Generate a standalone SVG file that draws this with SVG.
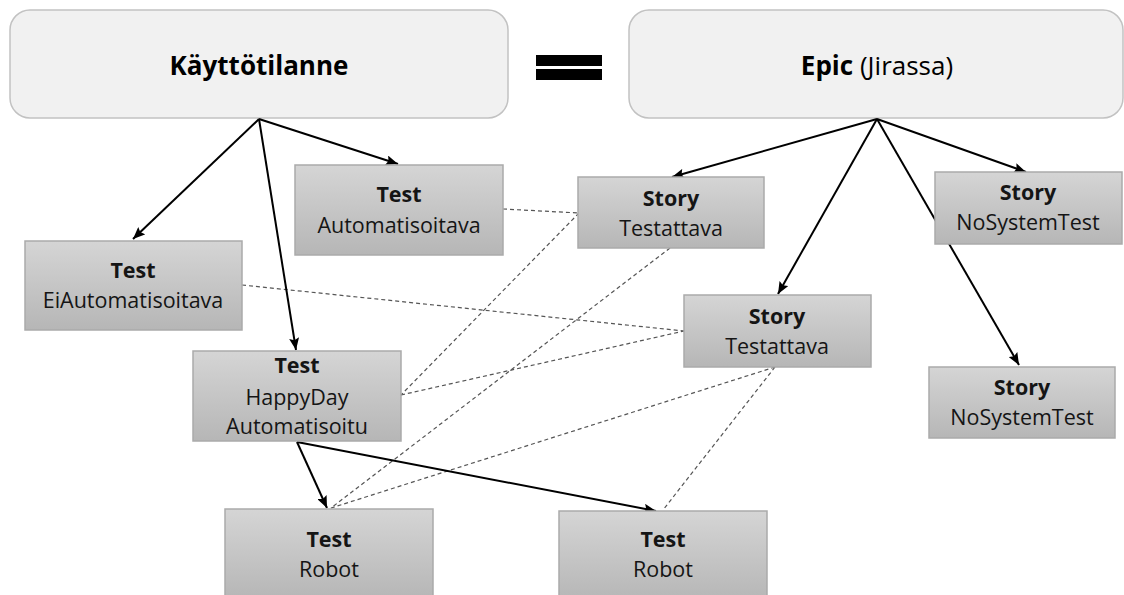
<svg xmlns="http://www.w3.org/2000/svg" width="1124" height="595" viewBox="0 0 1124 595">
<defs>
<linearGradient id="g" x1="0" y1="0" x2="0" y2="1">
<stop offset="0" stop-color="#d5d5d5"/>
<stop offset="1" stop-color="#b6b6b6"/>
</linearGradient>
<marker id="ah" viewBox="0 0 12 10" refX="12" refY="5" markerWidth="13" markerHeight="10" orient="auto" markerUnits="userSpaceOnUse">
<path d="M0,0 L12,5 L0,10 L2,5 z" fill="#000"/>
</marker>
<style>
.top{fill:#f1f1f1;stroke:#c2c2c2;stroke-width:1.5}
.box{fill:url(#g);stroke:#aaaaaa;stroke-width:1.5}
text{font-family:"Open Sans","Noto Sans","Liberation Sans",sans-serif;fill:#151515;text-anchor:middle}
.t{font-size:21.5px}
.b{font-weight:bold}
.h{font-size:26px;fill:#000}
.arr{stroke:#000;stroke-width:2;fill:none;marker-end:url(#ah)}
.dash{stroke:#555;stroke-width:1.2;stroke-dasharray:4 3;fill:none}
</style>
</defs>
<g id="kayttotilanne">
<rect class="top" x="10" y="10" width="498" height="108" rx="20"/>
<text class="h b" x="259" y="75">Käyttötilanne</text>
</g>
<g id="equals">
<rect x="536" y="55" width="66" height="11" fill="#000"/>
<rect x="536" y="69" width="66" height="11" fill="#000"/>
</g>
<g id="epic">
<rect class="top" x="629" y="10" width="494" height="108" rx="20"/>
<text class="h" x="877" y="75"><tspan class="b">Epic</tspan> (Jirassa)</text>
</g>
<g id="connectors">
<line class="dash" x1="503" y1="209" x2="579" y2="213"/>
<line class="dash" x1="242" y1="285" x2="684" y2="331"/>
<line class="dash" x1="579" y1="213" x2="401" y2="395"/>
<line class="dash" x1="670" y1="248" x2="331" y2="508"/>
<line class="dash" x1="401" y1="395" x2="684" y2="331"/>
<line class="dash" x1="775" y1="367" x2="331" y2="508"/>
<line class="dash" x1="775" y1="367" x2="663" y2="510"/>
<line class="arr" x1="259" y1="119" x2="133" y2="239"/>
<line class="arr" x1="259" y1="119" x2="296" y2="350"/>
<line class="arr" x1="259" y1="119" x2="398" y2="164"/>
<line class="arr" x1="877" y1="119" x2="672" y2="177"/>
<line class="arr" x1="877" y1="119" x2="778" y2="294"/>
<line class="arr" x1="877" y1="119" x2="1026" y2="172"/>
<line class="arr" x1="877" y1="119" x2="1019" y2="365"/>
<line class="arr" x1="297" y1="442" x2="327" y2="508"/>
<line class="arr" x1="297" y1="442" x2="656" y2="511"/>
</g>
<g id="test-automatisoitava">
<rect class="box" x="295" y="165" width="208" height="90"/>
<text class="t b" x="399" y="202">Test</text>
<text class="t" x="399" y="233">Automatisoitava</text>
</g>
<g id="test-eiautomatisoitava">
<rect class="box" x="25" y="241" width="217" height="89"/>
<text class="t b" x="133" y="278">Test</text>
<text class="t" x="133" y="308">EiAutomatisoitava</text>
</g>
<g id="test-happyday">
<rect class="box" x="193" y="351" width="208" height="90"/>
<text class="t b" x="297" y="373">Test</text>
<text class="t" x="297" y="405">HappyDay</text>
<text class="t" x="297" y="434">Automatisoitu</text>
</g>
<g id="test-robot-1">
<rect class="box" x="225" y="509" width="208" height="90"/>
<text class="t b" x="329" y="547">Test</text>
<text class="t" x="329" y="577">Robot</text>
</g>
<g id="test-robot-2">
<rect class="box" x="559" y="511" width="208" height="90"/>
<text class="t b" x="663" y="547">Test</text>
<text class="t" x="663" y="577">Robot</text>
</g>
<g id="story-testattava-1">
<rect class="box" x="578" y="177" width="186" height="71"/>
<text class="t b" x="671" y="206">Story</text>
<text class="t" x="671" y="236">Testattava</text>
</g>
<g id="story-testattava-2">
<rect class="box" x="684" y="295" width="187" height="72"/>
<text class="t b" x="777" y="324">Story</text>
<text class="t" x="777" y="354">Testattava</text>
</g>
<g id="story-nosystemtest-1">
<rect class="box" x="935" y="172" width="187" height="72"/>
<text class="t b" x="1028" y="200">Story</text>
<text class="t" x="1028" y="230">NoSystemTest</text>
</g>
<g id="story-nosystemtest-2">
<rect class="box" x="929" y="367" width="186" height="71"/>
<text class="t b" x="1022" y="395">Story</text>
<text class="t" x="1022" y="425">NoSystemTest</text>
</g>
</svg>
